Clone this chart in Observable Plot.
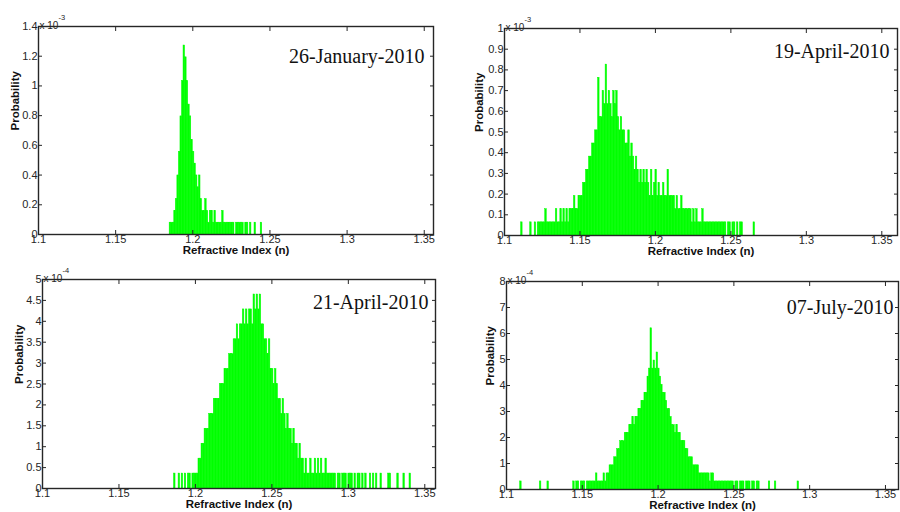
<!DOCTYPE html>
<html>
<head>
<meta charset="utf-8">
<script src="https://cdn.jsdelivr.net/npm/d3@7"></script>
<script src="https://cdn.jsdelivr.net/npm/@observablehq/plot@0.6"></script>
<style>
  html, body { margin: 0; padding: 0; background: #fff; }
  #wrap { position: relative; width: 900px; height: 512px; overflow: hidden; background: #fff; }
  .panel { position: absolute; width: 450px; height: 256px; }
</style>
</head>
<body>
<div id="wrap"></div>
<script>
// ---- data (histogram counts per 0.001-wide refractive-index bin) ----
const binWidth = 0.001;
const xTicks = [1.1, 1.15, 1.2, 1.25, 1.3, 1.35];
const xLabel = "Refractive Index (n)";
const yLabel = "Probability";

const titles = ["26-January-2010", "19-April-2010", "21-April-2010", "07-July-2010"];
const exponents = ["-3", "-3", "-4", "-4"];

// 26-January-2010 (probability in units of 1e-3)
const janStart = 1.185;
const janUnit = 0.0795;
const janCounts = [1,1,1,2,3,5,7,10,13,16,15,13,11,10,8,7,6,5,4,5,3,2,2,3,2,1,2,2,1,2,1,1,1,1,2,1,1,1,1,1,1,1,0,1,1,1,1,1,0,1,1,0,1,0,0,1,0,0,0,1];
const janYTicks = [0, 0.2, 0.4, 0.6, 0.8, 1, 1.2, 1.4];

// 19-April-2010 (units of 1e-3)
const aprAStart = 1.111;
const aprAUnit = 0.0635;
const aprACounts = [1,0,0,0,0,0,1,0,0,1,0,1,1,1,1,1,2,1,1,1,1,1,1,2,1,1,2,1,2,1,2,1,2,2,2,3,2,2,3,3,3,4,4,5,5,6,6,7,7,8,8,12,9,9,11,10,13,10,11,10,9,11,10,11,9,8,9,8,8,7,7,8,6,7,6,5,6,5,4,5,4,5,4,5,4,3,5,3,4,5,3,4,3,3,4,3,3,5,3,3,3,3,2,3,2,2,3,2,2,2,2,2,2,1,2,1,2,1,1,1,2,1,1,1,1,1,1,1,1,1,1,1,1,1,1,1,0,1,1,0,1,1,0,1,0,1,1,0,0,0,0,0,0,0,1];
const aprAYTicks = [0, 0.1, 0.2, 0.3, 0.4, 0.5, 0.6, 0.7, 0.8, 0.9, 1];

// 21-April-2010 (units of 1e-4)
const aprBStart = 1.186;
const aprBUnit = 0.357;
const aprBCounts = [1,0,0,1,0,1,0,1,0,1,1,0,1,1,1,1,2,2,3,3,4,4,4,5,5,5,6,6,6,6,7,7,7,8,8,8,9,9,9,10,10,11,10,11,11,12,11,12,11,12,12,11,13,12,13,12,13,11,11,10,10,9,10,8,8,7,8,7,6,6,5,6,5,4,5,4,4,3,4,3,3,2,3,2,2,1,2,1,1,2,1,1,2,1,2,1,2,1,1,2,1,1,1,1,1,1,0,1,1,0,1,1,1,0,1,1,1,0,1,0,1,1,0,1,0,1,0,0,1,0,1,0,1,0,0,1,0,0,0,0,1,1,0,0,0,0,1,0,0,0,1,0,0,0,1];
const aprBYTicks = [0, 0.5, 1, 1.5, 2, 2.5, 3, 3.5, 4, 4.5, 5];

// 07-July-2010 (units of 1e-4)
const julStart = 1.109;
const julUnit = 0.31;
const julCounts = [1,0,0,0,0,0,0,0,0,0,0,0,0,1,0,0,0,0,1,0,0,0,0,0,0,0,0,0,0,0,0,0,0,0,0,1,0,1,1,0,1,1,1,0,1,1,1,1,1,1,2,1,1,1,1,2,1,2,2,3,3,3,4,4,5,5,6,6,6,7,7,7,8,8,9,8,9,9,10,10,11,11,12,12,14,15,20,15,16,15,17,15,14,13,12,12,11,10,10,9,8,8,7,8,7,7,6,6,6,5,5,4,4,4,3,3,3,3,2,2,2,2,2,2,2,1,2,2,1,1,1,1,1,1,1,1,1,1,1,1,1,0,1,1,0,1,1,1,0,1,1,1,0,1,1,0,1,1,0,0,0,0,0,0,1,0,0,0,1,0,0,0,0,0,0,0,0,0,0,0,0,0,0,1];
const julYTicks = [0, 1, 2, 3, 4, 5, 6, 7, 8];

// ---- layout per panel ----
const panels = [
  {left: 0,   top: 0,   counts: janCounts,  start: janStart,  unit: janUnit,  yMax: 1.4, yTicks: janYTicks,  xMax: 1.356,
   m: {l: 38, r: 17, t: 26, b: 22}, titleDx: -9, titleDy: 22, yLabDx: -23},
  {left: 450, top: 0,   counts: aprACounts, start: aprAStart, unit: aprAUnit, yMax: 1.0, yTicks: aprAYTicks, xMax: 1.3604,
   m: {l: 54, r: 3, t: 28, b: 21}, titleDx: -8, titleDy: 15, yLabDx: -25},
  {left: 0,   top: 256, counts: aprBCounts, start: aprBStart, unit: aprBUnit, yMax: 5,   yTicks: aprBYTicks, xMax: 1.357,
   m: {l: 42, r: 15, t: 23, b: 24}, titleDx: -7, titleDy: 15, yLabDx: -23},
  {left: 450, top: 256, counts: julCounts,  start: julStart,  unit: julUnit,  yMax: 8,   yTicks: julYTicks,  xMax: 1.3586,
   m: {l: 56, r: 2, t: 25, b: 23}, titleDx: -5, titleDy: 18, yLabDx: -16}
];

const wrap = document.getElementById("wrap");
const ink = "#262626";
const green = "#00ff00";

panels.forEach((p, i) => {
  const bins = p.counts
    .map((c, k) => ({x1: p.start + k * binWidth, x2: p.start + (k + 1) * binWidth, y: c * p.unit}))
    .filter(d => d.y > 0);

  const chart = Plot.plot({
    width: 450,
    height: 256,
    marginLeft: p.m.l,
    marginRight: p.m.r,
    marginTop: p.m.t,
    marginBottom: p.m.b,
    x: {domain: [1.1, p.xMax]},
    y: {domain: [0, p.yMax]},
    style: {fontFamily: "'Liberation Sans', Arial, sans-serif", fontSize: "11px", color: ink, background: "transparent", overflow: "visible"},
    marks: [
      Plot.rectY(bins, {x1: "x1", x2: "x2", y: "y", inset: 0, fill: green, stroke: green, strokeWidth: 0.5}),
      Plot.frame({stroke: ink, strokeWidth: 1.4}),
      Plot.axisX({ticks: xTicks, tickSize: -4, tickPadding: 4.5, tickFormat: d => String(d), label: null, stroke: ink}),
      Plot.axisX({anchor: "top", ticks: xTicks, tickSize: -4, tickFormat: () => "", label: null, stroke: ink}),
      Plot.axisY({ticks: p.yTicks, tickSize: -4, tickPadding: 5, tickFormat: d => String(d), label: null, stroke: ink}),
      Plot.axisY({anchor: "right", ticks: p.yTicks, tickSize: -4, tickFormat: () => "", label: null, stroke: ink}),
      Plot.text([titles[i]], {frameAnchor: "top-right", dx: p.titleDx, dy: p.titleDy, textAnchor: "end",
        fontFamily: "'Liberation Serif', 'Times New Roman', serif", fontSize: 20, fill: "#111"}),
      Plot.text([xLabel], {frameAnchor: "bottom", dy: 19, fontWeight: "bold", fontSize: 11.5, fill: "#111"}),
      Plot.text([yLabel], {frameAnchor: "left", dx: p.yLabDx, rotate: -90, fontWeight: "bold", fontSize: 11.5, fill: "#111"}),
      Plot.text(["x 10"], {frameAnchor: "top-left", dx: 1, dy: -5, textAnchor: "start", fontSize: 10, fill: ink}),
      Plot.text([exponents[i]], {frameAnchor: "top-left", dx: 20, dy: -12, textAnchor: "start", fontSize: 7.5, fill: ink})
    ]
  });

  const div = document.createElement("div");
  div.className = "panel";
  div.style.left = p.left + "px";
  div.style.top = p.top + "px";
  div.appendChild(chart);
  wrap.appendChild(div);
});
</script>
</body>
</html>
